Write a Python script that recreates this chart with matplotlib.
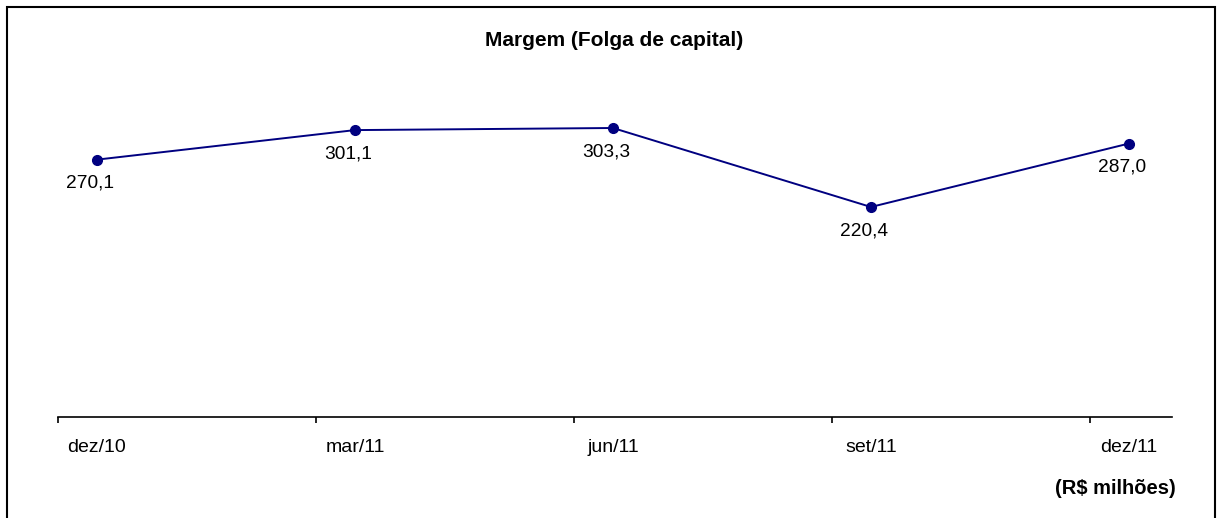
import matplotlib
matplotlib.use("Agg")
import matplotlib.pyplot as plt
from matplotlib.patches import Rectangle
from matplotlib.ticker import FixedLocator

categories = ["dez/10", "mar/11", "jun/11", "set/11", "dez/11"]
values = [270.1, 301.1, 303.3, 220.4, 287.0]
value_labels = ["270,1", "301,1", "303,3", "220,4", "287,0"]
title = "Margem (Folga de capital)"
unit_note = "(R$ milhões)"

plt.rcParams['font.family'] = ['Liberation Sans', 'DejaVu Sans']

W, H = 1218, 518
fig = plt.figure(figsize=(W / 100, H / 100), dpi=100)

# outer border
fig.patches.append(Rectangle((7 / W, -0.1), (1215 - 7) / W, 1.1 - 7 / H,
                             transform=fig.transFigure, fill=False,
                             edgecolor='black', linewidth=1.5))

ax = fig.add_axes([58 / W, 101 / H, (1172 - 58) / W, (434.5 - 101) / H])
x = list(range(len(categories)))
ax.plot(x, values, color='#000080', linewidth=1.4, marker='o', markersize=7,
        markerfacecolor='#000080', markeredgecolor='#000080')

for xi, v, lab in zip(x, values, value_labels):
    ax.annotate(lab, (xi, v), xytext=(-5, -17), textcoords='offset points',
                ha='center', va='center', fontsize=13.8, color='black')

ax.set_xlim(-0.151, 4.167)
ax.set_ylim(0, 350)
for s in ['left', 'right', 'top']:
    ax.spines[s].set_visible(False)
ax.spines['bottom'].set_linewidth(1.2)
ax.set_yticks([])
ax.set_xticks(x)
ax.set_xticklabels(categories, fontsize=14)
ax.tick_params(axis='x', which='major', length=0, pad=16)
ax.xaxis.set_minor_locator(FixedLocator([-0.151 + k for k in range(5)]))
ax.tick_params(axis='x', which='minor', length=4, width=1.2, direction='out')

fig.text(614 / W, 1 - 40 / H, title, ha='center', va='center',
         fontsize=15, fontweight='bold')
fig.text(1176 / W, 1 - 489 / H, unit_note, ha='right', va='center',
         fontsize=14.5, fontweight='bold')

fig.savefig("out.png", dpi=100)
